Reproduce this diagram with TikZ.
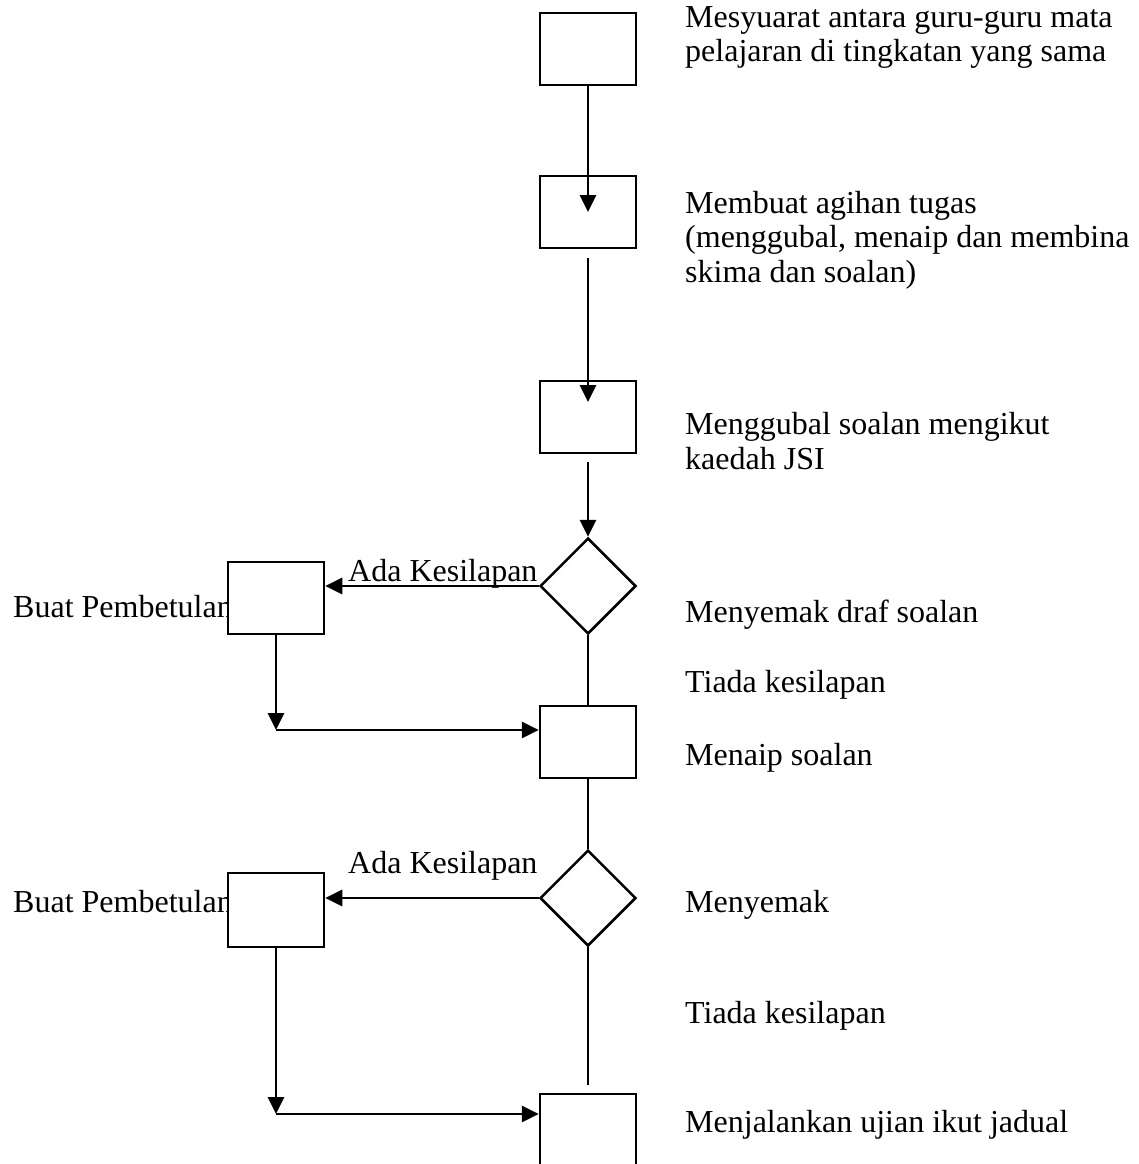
\documentclass[tikz,border=0pt]{standalone}
\usepackage{fontspec}
\setmainfont{Liberation Serif}
\usetikzlibrary{arrows.meta,shapes.geometric}
\begin{document}
\begin{tikzpicture}[x=1pt,y=-1pt,
  font=\fontsize{32}{34.5}\selectfont,
  stepbox/.style={draw,line width=2.5pt,fill=white,minimum width=96pt,minimum height=72pt,inner sep=0pt},
  decision/.style={draw,line width=2.5pt,fill=white,diamond,shape aspect=1,minimum width=96pt,minimum height=96pt,inner sep=0pt},
  lbl/.style={anchor=base west,inner sep=0pt,align=left},
  flow/.style={line width=2.8pt,-{Triangle[length=17pt,width=16pt]}},
  plain/.style={line width=2.6pt}]
\useasboundingbox (0,0) rectangle (1139,1164);
\clip (0,0) rectangle (1139,1164);

% side texts (drawn first so boxes hide overlap)
\node[lbl] (tb1) at (13,617) {Buat Pembetulan};
\node[lbl] (tb2) at (13,912) {Buat Pembetulan};
\node[lbl] (ta1) at (348,581) {Ada Kesilapan};
\node[lbl] (ta2) at (348,873) {Ada Kesilapan};

% boxes
\node[stepbox] (b1) at (588,49) {};
\node[stepbox] (b2) at (588,212) {};
\node[stepbox] (b3) at (588,417) {};
\node[decision] (d1) at (588,586) {};
\node[stepbox] (b4) at (588,742) {};
\node[decision] (d2) at (588,898) {};
\node[stepbox,minimum height=84pt] (b5) at (588,1136) {};
\node[stepbox] (p1) at (276,598) {};
\node[stepbox,minimum height=74pt] (p2) at (276,910) {};

% helper coordinates
\coordinate (a2end) at (588,212);
\coordinate (a3start) at (588,258);
\coordinate (a3end) at (588,402);
\coordinate (a4start) at (588,462);
\coordinate (k1) at (276,730);
\coordinate (k2) at (276,1114);
\coordinate (e5) at (588,1085);

% connectors
\draw[flow] (b1.south) -- (a2end);
\draw[flow] (a3start) -- (a3end);
\draw[flow] (a4start) -- (d1.north);
\draw[flow] (d1.west) -- (d1.west -| p1.east);
\draw[flow] (p1.south) -- (k1);
\draw[flow] (k1) -- (k1 -| b4.west);
\draw[plain] (d1.south) -- (b4.north);
\draw[plain] (b4.south) -- (d2.north);
\draw[flow] (d2.west) -- (d2.west -| p2.east);
\draw[flow] (p2.south) -- (k2);
\draw[flow] (k2) -- (k2 -| b5.west);
\draw[plain] (d2.south) -- (e5);

% right texts (base anchor = baseline of last line)
\node[lbl] (t1) at (685,62) {Mesyuarat antara guru-guru mata\\pelajaran di tingkatan yang sama};
\node[lbl] (t2) at (685,282) {Membuat agihan tugas\\(menggubal, menaip dan membina\\skima dan soalan)};
\node[lbl] (t3) at (685,469) {Menggubal soalan mengikut\\kaedah JSI};
\node[lbl] (t4) at (685,622) {Menyemak draf soalan};
\node[lbl] (t5) at (685,692) {Tiada kesilapan};
\node[lbl] (t6) at (685,765) {Menaip soalan};
\node[lbl] (t7) at (685,912) {Menyemak};
\node[lbl] (t8) at (685,1023) {Tiada kesilapan};
\node[lbl] (t9) at (685,1132) {Menjalankan ujian ikut jadual};
\end{tikzpicture}
\end{document}
